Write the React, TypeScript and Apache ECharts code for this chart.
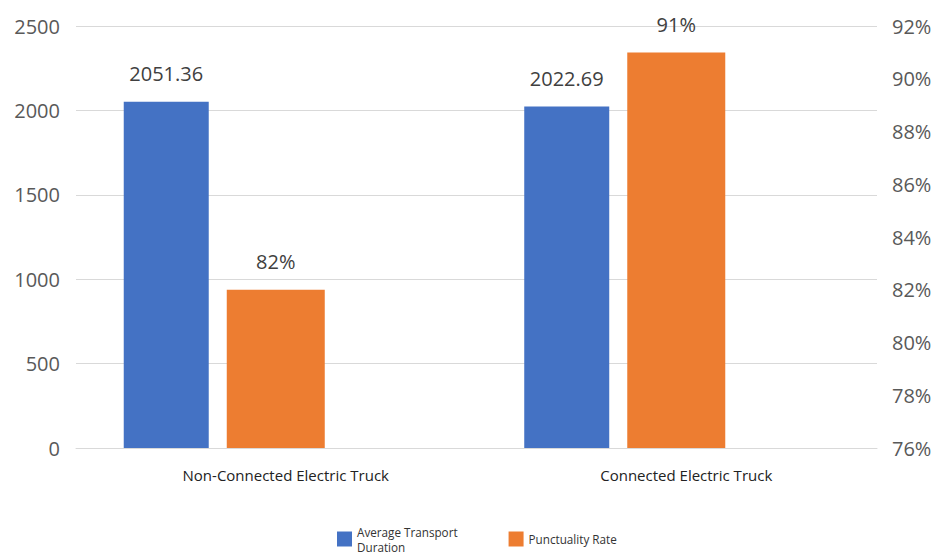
import React, { useEffect, useRef } from "react";
import * as echarts from "echarts";

const categories = ["Non-Connected Electric Truck", "Connected Electric Truck"];
const durationValues = [2051.36, 2022.69];
const punctualityValues = [82, 91];
const seriesNames = ["Average Transport Duration", "Punctuality Rate"];

const FONT = "'Open Sans', 'Noto Sans', sans-serif";

export default function App() {
  const ref = useRef<HTMLDivElement>(null);
  useEffect(() => {
    if (!ref.current) return;
    const chart = echarts.init(ref.current, undefined, { renderer: "svg" });
    chart.setOption({
      animation: false,
      backgroundColor: "#ffffff",
      textStyle: { fontFamily: FONT },
      legend: {
        left: 337,
        top: 524,
        padding: 0,
        itemWidth: 15,
        itemHeight: 15,
        itemGap: 51,
        icon: "rect",
        data: seriesNames,
        formatter: (name: string) =>
          name === "Average Transport Duration" ? "Average Transport\nDuration" : name,
        textStyle: { fontSize: 11.7, color: "#333333", fontFamily: FONT, lineHeight: 15 },
      },
      grid: [
        { left: 76, right: 60, top: 26, bottom: 106 },
        { left: 24, right: 112, top: 26, bottom: 106 },
      ],
      xAxis: [
        {
          type: "category",
          gridIndex: 0,
          data: categories,
          axisTick: { show: false },
          axisLine: { lineStyle: { color: "#D9D9D9", width: 1 } },
          axisLabel: {
            margin: 19,
            fontSize: 15,
            color: "#222222",
            fontFamily: FONT,
            padding: [0, 0, 0, 19],
          },
        },
        {
          type: "category",
          gridIndex: 1,
          data: categories,
          show: false,
        },
      ],
      yAxis: [
        {
          type: "value",
          gridIndex: 0,
          min: 0,
          max: 2500,
          interval: 500,
          axisLine: { show: false },
          axisTick: { show: false },
          splitLine: { lineStyle: { color: "#D9D9D9", width: 1 } },
          axisLabel: {
            margin: 16,
            fontSize: 20,
            color: "#595959",
            fontFamily: FONT,
            formatter: (v: number) => String(v),
          },
        },
        {
          type: "value",
          gridIndex: 0,
          position: "right",
          min: 76,
          max: 92,
          interval: 2,
          axisLine: { show: false },
          axisTick: { show: false },
          splitLine: { show: false },
          axisLabel: {
            margin: 15,
            fontSize: 20,
            color: "#595959",
            fontFamily: FONT,
            formatter: "{value}%",
          },
        },
        { type: "value", gridIndex: 1, min: 0, max: 2500, show: false, splitLine: { show: false } },
        { type: "value", gridIndex: 1, min: 76, max: 92, show: false, splitLine: { show: false } },
      ],
      series: [
        {
          name: seriesNames[0],
          type: "bar",
          xAxisIndex: 1,
          yAxisIndex: 2,
          data: durationValues,
          barWidth: 85,
          barGap: "21.2%",
          itemStyle: { color: "#4472C4" },
          label: {
            show: true,
            position: "top",
            distance: 18,
            fontSize: 20,
            color: "#404040",
            fontFamily: FONT,
          },
        },
        {
          name: seriesNames[1],
          type: "bar",
          xAxisIndex: 1,
          yAxisIndex: 3,
          data: punctualityValues,
          barWidth: 98,
          barGap: "21.2%",
          itemStyle: { color: "#ED7D31" },
          label: {
            show: true,
            position: "top",
            distance: 18,
            fontSize: 20,
            color: "#404040",
            fontFamily: FONT,
            formatter: "{c}%",
          },
        },
      ],
    });
    return () => chart.dispose();
  }, []);
  return (
    <div
      ref={ref}
      style={{ position: "fixed", left: 0, top: 0, width: 937, height: 554 }}
    />
  );
}
